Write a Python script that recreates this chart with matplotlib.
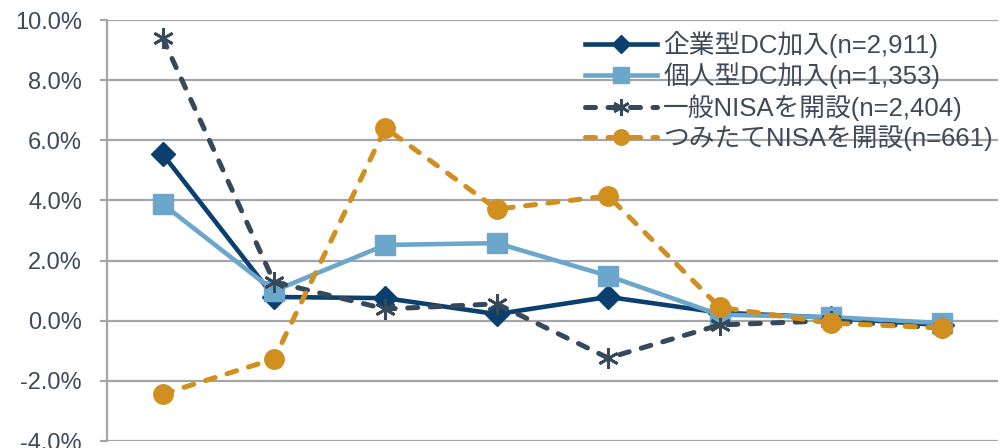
import matplotlib
matplotlib.use("Agg")
import matplotlib.pyplot as plt
from matplotlib.ticker import FuncFormatter

plt.rcParams['font.family'] = ['Liberation Sans', 'Noto Sans CJK JP', 'DejaVu Sans']

# data (percent), 8 categories, labels cut off in the source
categories = list(range(8))
kigyo_dc = [5.54, 0.79, 0.75, 0.22, 0.79, 0.27, 0.10, -0.15]
kojin_dc = [3.88, 0.99, 2.52, 2.58, 1.49, 0.20, 0.12, -0.08]
ippan_nisa = [9.40, 1.29, 0.39, 0.56, -1.24, -0.14, 0.00, -0.25]
tsumitate_nisa = [-2.44, -1.27, 6.41, 3.71, 4.15, 0.45, -0.08, -0.24]

labels = ['企業型DC加入(n=2,911)', '個人型DC加入(n=1,353)',
          '一般NISAを開設(n=2,404)', 'つみたてNISAを開設(n=661)']

text_color = '#3E4A57'
grid_color = '#A3A5A8'
dash = (0, (2.0, 2.5))

fig = plt.figure(figsize=(10.07, 4.48), dpi=100)
ax = fig.add_axes([107 / 1007, 7 / 448, 891 / 1007, 421 / 448])

ax.plot(categories, kigyo_dc, color='#0B3F6E', lw=3.3, marker='D', ms=12,
        label=labels[0], zorder=3)
ax.plot(categories, kojin_dc, color='#6CA6CB', lw=3.3, marker='s', ms=14,
        label=labels[1], zorder=4)
ax.plot(categories, ippan_nisa, color='#36495B', lw=3.6, ls=dash,
        dash_capstyle='round', marker=(6, 2, 0), ms=15, mew=2.0,
        label=labels[2], zorder=5)
ax.plot(categories, tsumitate_nisa, color='#D08F1E', lw=3.6, ls=dash,
        dash_capstyle='round', marker='o', ms=14, label=labels[3], zorder=6)

ax.set_xlim(-0.5, 7.5)
ax.set_ylim(-4, 10)
ax.set_yticks(range(-4, 11, 2))
ax.yaxis.set_major_formatter(FuncFormatter(lambda v, p: f'{v:.1f}%'))
ax.set_xticks([])
ax.grid(axis='y', color=grid_color, lw=1.6)
ax.set_axisbelow(True)
for s in ['top', 'right', 'bottom']:
    ax.spines[s].set_visible(False)
ax.spines['left'].set_color(grid_color)
ax.spines['left'].set_linewidth(1.6)
ax.tick_params(axis='y', length=5, width=1.6, color=grid_color, pad=13,
               labelsize=17, labelcolor=text_color)

leg = fig.legend(loc='upper left', bbox_to_anchor=(585 / 1007, (448 - 31) / 448),
                 frameon=False, fontsize=18.5, handlelength=2.8,
                 handletextpad=0.25, labelspacing=0.18, borderpad=0,
                 borderaxespad=0, markerscale=0.8)
for t in leg.get_texts():
    t.set_color(text_color)

fig.savefig('out.png', dpi=100)
